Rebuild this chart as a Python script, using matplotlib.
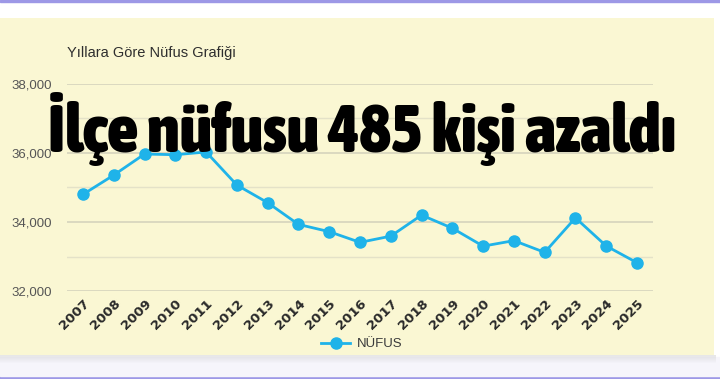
import numpy as np
import matplotlib
matplotlib.use("Agg")
import matplotlib.pyplot as plt
from matplotlib.patches import Rectangle
from matplotlib.ticker import MultipleLocator, FuncFormatter
from matplotlib import font_manager as fm

# values
years = [str(y) for y in range(2007, 2026)]
nufus = [34800, 35360, 35970, 35950, 36030, 35070, 34560, 33930, 33720, 33410,
         33590, 34200, 33820, 33300, 33460, 33120, 34120, 33305, 32820]

chart_title = "Yıllara Göre Nüfus Grafiği"
headline = "İlçe nüfusu 485 kişi azaldı"
series_name = "NÜFUS"

W, H = 720, 379
fig = plt.figure(figsize=(W / 100, H / 100), dpi=100)
fig.patch.set_facecolor("white")

# page decorations: purple rules, yellow panel with a soft shadow
fig.add_artist(Rectangle((0, 1 - 2 / H), 1, 2 / H, transform=fig.transFigure,
                         color="#9d98e6", zorder=0))
fig.add_artist(Rectangle((0, 0), 1, 3 / H, transform=fig.transFigure,
                         color="#9d98e6", zorder=0))
fig.add_artist(Rectangle((0, 3 / H), 1, 19 / H, transform=fig.transFigure,
                         color="#f6f5fb", zorder=0))
for i in range(8):
    fig.add_artist(Rectangle((0, (24 - i - 1) / H), 716 / W, 1 / H, transform=fig.transFigure,
                             color="#b0b0b0", alpha=0.30 * (1 - i / 8), lw=0, zorder=0))
fig.add_artist(Rectangle((0, 24 / H), 714 / W, (355 - 18) / H, transform=fig.transFigure,
                         color="#faf7d3", lw=0, zorder=0))

ax = fig.add_axes([67 / W, 1 - 291 / H, (653 - 67) / W, (291 - 84) / H])
ax.set_facecolor("none")
x = np.arange(len(years))
ax.plot(x, nufus, color="#1fb3e9", lw=2.0, marker="o", ms=8, label=series_name,
        solid_joinstyle="round", zorder=3)
ax.set_xlim(-0.52, len(years) - 1 + 0.52)
ax.set_ylim(32000, 38000)
ax.yaxis.set_major_locator(MultipleLocator(2000))
ax.yaxis.set_minor_locator(MultipleLocator(1000))
ax.yaxis.set_major_formatter(FuncFormatter(lambda v, p: f"{int(v):,}"))
ax.grid(axis="y", which="major", color="#d2d0bb", lw=1.1)
ax.grid(axis="y", which="minor", color="#e4e2c8", lw=1.0)
for s in ax.spines.values():
    s.set_visible(False)
ax.tick_params(axis="y", which="both", length=0, pad=11, labelsize=9.5,
               labelcolor="#555555")
ax.tick_params(axis="x", length=0, pad=4)
ax.set_xticks(x)
ax.set_xticklabels(years, rotation=45, ha="right", rotation_mode="anchor",
                   fontsize=9.5, fontweight="bold", color="#2a2a2a")
for lab in ax.get_yticklabels():
    lab.set_family("Liberation Sans")

fig.text(67 / W, 1 - 57 / H, chart_title, fontsize=10.5, color="#2e2e2e",
         family="Liberation Sans", va="baseline", ha="left")

leg = fig.legend(loc="center", bbox_to_anchor=(362 / W, 1 - 344 / H), frameon=False,
                 handlelength=2.2, handletextpad=0.5,
                 prop={"family": "Liberation Sans", "size": 9.5})
for t in leg.get_texts():
    t.set_color("#3a3a3a")

# headline: look for a narrow / condensed bold face among the installed fonts
def pick_condensed():
    best = None
    for f in fm.fontManager.ttflist:
        name = f.name.lower()
        narrow = ("narrow" in name or "condensed" in name or "condensed" in str(f.stretch)
                  or "condensed" in f.fname.lower() or "narrow" in f.fname.lower())
        if not narrow:
            continue
        w = f.weight if isinstance(f.weight, int) else 700 if "bold" in str(f.weight) else 400
        score = w - (500 if "italic" in f.style or "oblique" in f.style else 0)
        if best is None or score > best[0]:
            best = (score, f.fname)
    return best[1] if best else None

fname = pick_condensed()
if fname:
    hprop = fm.FontProperties(fname=fname, size=49)
else:
    hprop = fm.FontProperties(family="DejaVu Sans", weight="bold", size=49)

htxt = fig.text(48 / W, 1 - 152 / H, headline, fontproperties=hprop, color="black",
                va="baseline", ha="left", zorder=10)
# fit the headline width to the reference (about 627 px)
r = fig.canvas.get_renderer()
wpx = htxt.get_window_extent(r).width
hprop.set_size(49 * 627 / wpx)
htxt.set_fontproperties(hprop)

fig.savefig("out.png", dpi=100)
